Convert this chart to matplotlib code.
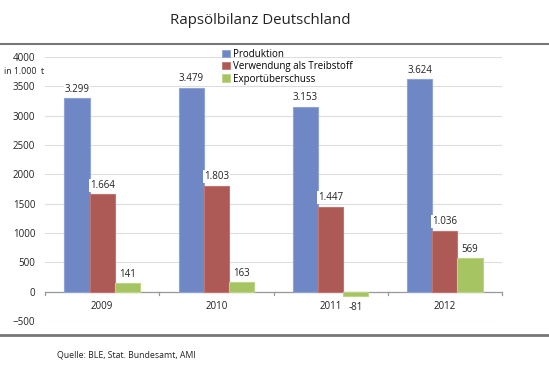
import numpy as np
import matplotlib.pyplot as plt
from matplotlib.patches import Patch
from matplotlib.lines import Line2D

plt.rcParams['font.family'] = ['Open Sans', 'DejaVu Sans']

years = ['2009', '2010', '2011', '2012']
produktion = [3299, 3479, 3153, 3624]
treibstoff = [1664, 1803, 1447, 1036]
export = [141, 163, -81, 569]
series_names = ['Produktion', 'Verwendung als Treibstoff', 'Exportüberschuss']
colors = ['#6F88C5', '#AD5A57', '#A6C461']
edges = ['#8FA3D6', '#C07572', '#BCD488']

fig = plt.figure(figsize=(5.49, 3.74), dpi=100)
ax = fig.add_axes([45 / 549, 53 / 374, 457 / 549, 264 / 374])

x = np.arange(len(years))
w = 0.22
series = [produktion, treibstoff, export]
for k, vals in enumerate(series):
    xs = x + (k - 1) * w
    ax.bar(xs, vals, width=w, color=colors[k], edgecolor=edges[k], linewidth=0.8, zorder=2)
    for xi, v in zip(xs, vals):
        lab = f'{abs(v) / 1000:.3f}' if abs(v) >= 1000 else str(abs(v))
        if v < 0:
            lab = '-' + lab
        off = 9 if v >= 0 else -11
        ax.annotate(lab, (xi, v), xytext=(0, off), textcoords='offset pixels',
                    ha='center', va='center', fontsize=7, color='#222222', zorder=3,
                    bbox=dict(boxstyle='square,pad=0.1', fc='white', ec='none'))

ax.set_xlim(-0.5, 3.5)
ax.set_ylim(-500, 4000)
ax.set_yticks(np.arange(-500, 4001, 500))
ax.tick_params(axis='y', length=0, labelsize=7, pad=7, colors='#222222')
ax.set_xticks([])
for s in ax.spines.values():
    s.set_visible(False)
ax.yaxis.grid(True, color='#DDDDDD', linewidth=0.8, zorder=0)
ax.set_axisbelow(True)
ax.axhline(0, color='#999999', linewidth=0.9, zorder=1)
for b in np.arange(-0.5, 4.0, 1.0):
    ax.plot([b, b], [0, -60], color='#999999', linewidth=0.9, clip_on=False, zorder=1)
for xi, yr in zip(x, years):
    ax.text(xi, -260, yr, ha='center', va='center', fontsize=7, color='#222222')

fig.text(4 / 549, 1 - 72 / 374, 'in 1.000  t', ha='left', va='center', fontsize=6.3, color='#222222')

handles = [Patch(facecolor=c, edgecolor=e, linewidth=0.6) for c, e in zip(colors, edges)]
ax.legend(handles, series_names, loc='upper left', bbox_to_anchor=(172 / 457, 1.05),
          frameon=False, fontsize=7, handlelength=0.8, handleheight=0.8,
          handletextpad=0.3, labelspacing=0.15, borderpad=0)

fig.text(260.5 / 549, 1 - 20 / 374, 'Rapsölbilanz Deutschland', ha='center', va='center',
         fontsize=10.8, color='#222222')
fig.add_artist(Line2D([0, 1], [1 - 44 / 374] * 2, color='#777777', linewidth=1.5))
fig.add_artist(Line2D([0, 1], [1 - 335 / 374] * 2, color='#777777', linewidth=2))
fig.text(57 / 549, 1 - 355 / 374, 'Quelle: BLE, Stat. Bundesamt, AMI', ha='left', va='center',
         fontsize=6.3, color='#222222')

fig.savefig('out.png', dpi=100)
